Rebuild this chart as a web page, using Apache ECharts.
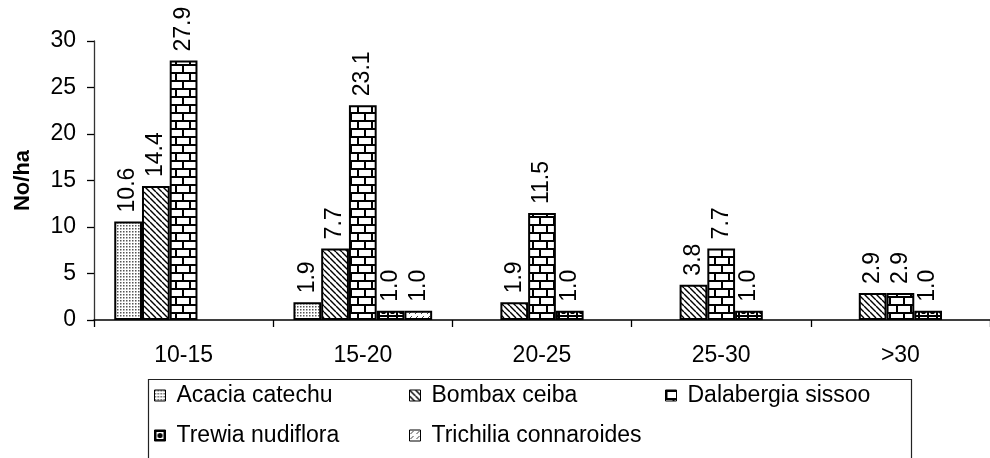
<!DOCTYPE html>
<html>
<head>
<meta charset="utf-8">
<script src="https://cdn.jsdelivr.net/npm/echarts@6/dist/echarts.min.js"></script>
<style>
html,body{margin:0;padding:0;background:#fff;}
#chart{width:990px;height:458px;}
</style>
</head>
<body>
<div id="chart"></div>
<script>
const categories = ['10-15', '15-20', '20-25', '25-30', '>30'];
const seriesNames = ['Acacia catechu', 'Bombax ceiba', 'Dalabergia sissoo', 'Trewia nudiflora', 'Trichilia connaroides'];
const acacia = [10.6, 1.9, null, null, null];
const bombax = [14.4, 7.7, 1.9, 3.8, 2.9];
const dalbergia = [27.9, 23.1, 11.5, 7.7, 2.9];
const trewia = [null, 1.0, 1.0, 1.0, 1.0];
const trichilia = [null, 1.0, null, null, null];
const yTicks = [0, 5, 10, 15, 20, 25, 30];

function tile(w, h, draw) {
  const c = document.createElement('canvas');
  c.width = w; c.height = h;
  const g = c.getContext('2d');
  g.fillStyle = '#fff'; g.fillRect(0, 0, w, h);
  draw(g, w, h);
  return { image: c, repeat: 'repeat' };
}
const patDots = tile(3, 3, (g) => { g.fillStyle = '#555'; g.fillRect(0, 0, 1.5, 1.5); });
const patDiag = tile(6, 6, (g) => {
  g.strokeStyle = '#000'; g.lineWidth = 1.4;
  g.beginPath();
  for (let k = -6; k <= 12; k += 6) { g.moveTo(k, 0); g.lineTo(k + 6, 6); }
  g.stroke();
});
const patBrick = tile(14, 16, (g) => {
  g.fillStyle = '#000';
  g.fillRect(0, 0, 14, 2);
  g.fillRect(0, 8, 14, 2);
  g.fillRect(0, 0, 2, 8);
  g.fillRect(7, 8, 2, 8);
});
const patTrewia = tile(9, 9, (g) => {
  g.fillStyle = '#000';
  g.fillRect(0, 0, 9, 2);
  g.fillRect(0, 0, 2, 9);
  g.beginPath(); g.arc(5.5, 5.5, 2.6, 0, Math.PI * 2); g.fill();
});
const patTrich = tile(6, 5, (g) => {
  g.strokeStyle = '#444'; g.lineWidth = 1;
  g.beginPath(); g.moveTo(1, 4); g.lineTo(4, 1); g.stroke();
});
const patterns = [patDots, patDiag, patBrick, patTrewia, patTrich];
const dataSets = [acacia, bombax, dalbergia, trewia, trichilia];

const FONT = 'Liberation Sans, Arial, sans-serif';

function legendCol(left, names) {
  return {
    left: left, top: 384,
    orient: 'vertical',
    padding: 0,
    itemWidth: 11, itemHeight: 11,
    itemGap: 17,
    icon: 'rect',
    itemStyle: { borderColor: '#000', borderWidth: 1 },
    textStyle: { fontSize: 23, lineHeight: 23, color: '#000', fontFamily: FONT, padding: [0, 0, 0, 6] },
    data: names
  };
}

const chart = echarts.init(document.getElementById('chart'), null, { renderer: 'canvas' });
chart.setOption({
  animation: false,
  backgroundColor: '#fff',
  textStyle: { fontFamily: FONT, color: '#000' },
  grid: { left: 94, top: 41, width: 904, height: 279, containLabel: false },
  graphic: [{
    type: 'rect',
    left: 146, top: 377,
    shape: { x: 0, y: 0, width: 763, height: 120 },
    style: { fill: 'none', stroke: '#222', lineWidth: 1.2 },
    silent: true
  }],
  xAxis: {
    type: 'category',
    data: categories,
    axisLine: { lineStyle: { color: '#000', width: 1.5 } },
    axisTick: { show: true, length: 7, lineStyle: { color: '#000', width: 1.3 } },
    axisLabel: { fontSize: 23, color: '#000', margin: 24, fontFamily: FONT }
  },
  yAxis: {
    type: 'value',
    min: 0, max: 30, interval: 5,
    name: 'No/ha',
    nameLocation: 'middle',
    nameGap: 60,
    nameTextStyle: { fontSize: 22, fontWeight: 'bold', color: '#000', fontFamily: FONT },
    splitLine: { show: false },
    axisLine: { show: true, lineStyle: { color: '#333', width: 1.3 } },
    axisTick: { show: true, length: 7, lineStyle: { color: '#000', width: 1.3 } },
    axisLabel: {
      fontSize: 23, color: '#000', margin: 18, fontFamily: FONT,
      customValues: yTicks
    }
  },
  legend: [
    legendCol(154, [seriesNames[0], seriesNames[3]]),
    legendCol(409, [seriesNames[1], seriesNames[4]]),
    legendCol(665, [seriesNames[2]])
  ],
  series: seriesNames.map((name, i) => ({
    name: name,
    type: 'bar',
    data: dataSets[i],
    barGap: '0%',
    barCategoryGap: '22.6%',
    itemStyle: { color: patterns[i], borderColor: '#000', borderWidth: 2 },
    label: {
      show: true,
      position: 'top',
      rotate: 90,
      align: 'left',
      verticalAlign: 'middle',
      distance: 9,
      fontSize: 23,
      color: '#000',
      fontFamily: FONT,
      formatter: (p) => (p.value == null ? '' : Number(p.value).toFixed(1))
    }
  }))
});
</script>
</body>
</html>
